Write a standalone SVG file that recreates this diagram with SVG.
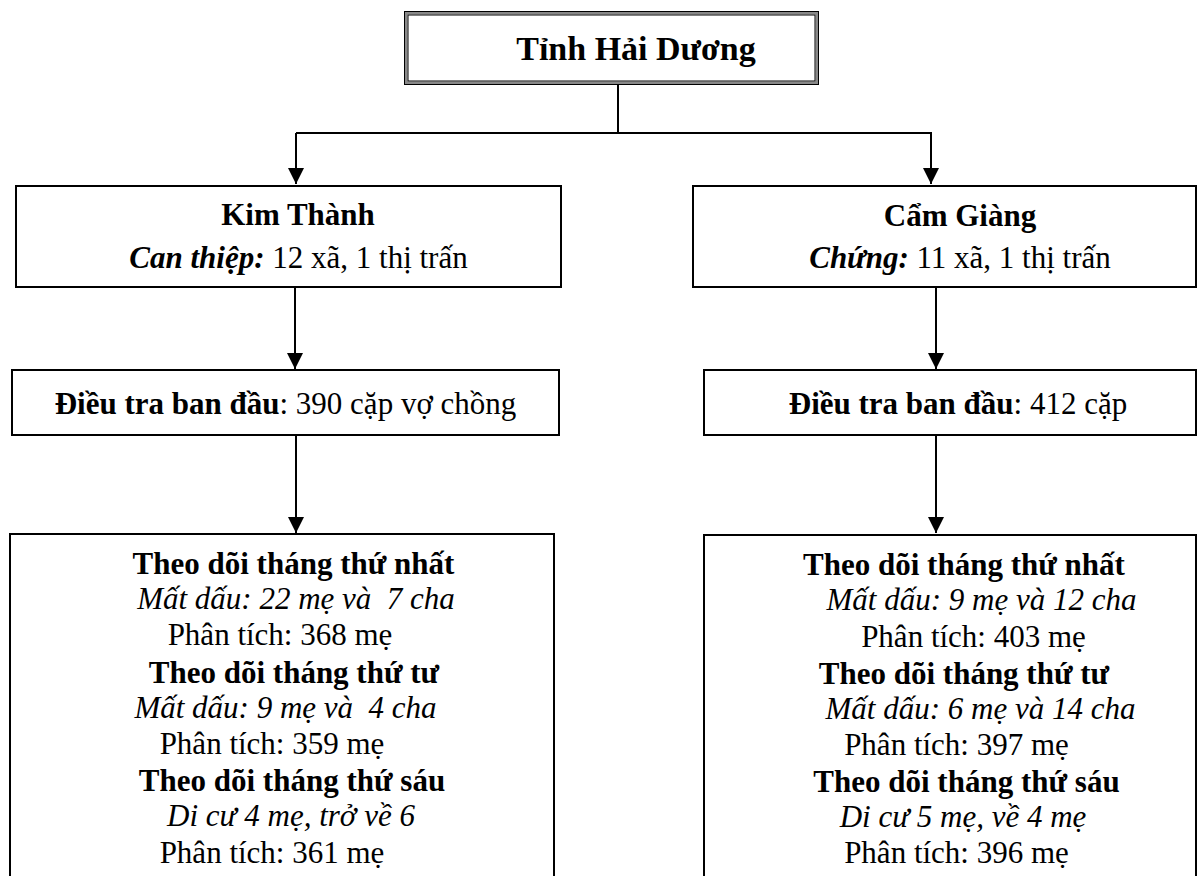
<svg xmlns="http://www.w3.org/2000/svg" width="1198" height="876" viewBox="0 0 1198 876">
<style>
text{font-family:"Liberation Serif","Times New Roman",serif;fill:#000;text-anchor:middle;font-size:31px}
.b{font-weight:bold}
.i{font-style:italic}
.title{font-size:34px}
.box{fill:#fff;stroke:#000;stroke-width:2}
.conn{fill:none;stroke:#000;stroke-width:2}
</style>
<defs>
<marker id="ah" markerUnits="userSpaceOnUse" markerWidth="16" markerHeight="16" refX="16" refY="8" orient="auto">
<path d="M0,0 L16,8 L0,16 z" fill="#000"/>
</marker>
</defs>
<rect width="1198" height="876" fill="#fff"/>
<g id="connectors">
<path class="conn" d="M618,84 V133"/>
<path class="conn" d="M296,133 H932"/>
<path class="conn" d="M296,133 V184" marker-end="url(#ah)"/>
<path class="conn" d="M931,133 V184" marker-end="url(#ah)"/>
<path class="conn" d="M295,287 V369" marker-end="url(#ah)"/>
<path class="conn" d="M936,287 V369" marker-end="url(#ah)"/>
<path class="conn" d="M296,435 V533" marker-end="url(#ah)"/>
<path class="conn" d="M936,435 V533" marker-end="url(#ah)"/>
</g>
<g id="tinh">
<rect x="406" y="13" width="411" height="70" fill="#fff" stroke="#888" stroke-width="3"/>
<rect x="404.5" y="11.5" width="414" height="73" fill="none" stroke="#000" stroke-width="1"/>
<rect x="408" y="15" width="407" height="66" fill="none" stroke="#000" stroke-width="1"/>
<text class="b title" x="636" y="60">Tỉnh Hải Dương</text>
</g>
<g id="kimthanh">
<rect class="box" x="16" y="186" width="545" height="101"/>
<text class="b" x="298" y="225">Kim Thành</text>
<text x="298.5" y="268"><tspan class="b i">Can thiệp:</tspan> 12 xã, 1 thị trấn</text>
</g>
<g id="camgiang">
<rect class="box" x="693" y="186" width="503" height="101"/>
<text class="b" x="960" y="226">Cẩm Giàng</text>
<text x="960" y="268"><tspan class="b i">Chứng:</tspan> 11 xã, 1 thị trấn</text>
</g>
<g id="dieutra-left">
<rect class="box" x="12" y="370" width="547" height="65"/>
<text x="285.5" y="414"><tspan class="b">Điều tra ban đầu</tspan>: 390 cặp vợ chồng</text>
</g>
<g id="dieutra-right">
<rect class="box" x="704" y="370" width="492" height="65"/>
<text x="958" y="414"><tspan class="b">Điều tra ban đầu</tspan>: 412 cặp</text>
</g>
<g id="theodoi-left">
<rect class="box" x="10" y="534" width="544" height="360"/>
<text class="b" x="293.5" y="574">Theo dõi tháng thứ nhất</text>
<text class="i" x="296" y="609" xml:space="preserve">Mất dấu: 22 mẹ và  7 cha</text>
<text x="280" y="645">Phân tích: 368 mẹ</text>
<text class="b" x="294" y="683">Theo dõi tháng thứ tư</text>
<text class="i" x="285.5" y="718" xml:space="preserve">Mất dấu: 9 mẹ và  4 cha</text>
<text x="272" y="754">Phân tích: 359 mẹ</text>
<text class="b" x="292" y="791">Theo dõi tháng thứ sáu</text>
<text class="i" x="291" y="826">Di cư 4 mẹ, trở về 6</text>
<text x="272" y="863">Phân tích: 361 mẹ</text>
</g>
<g id="theodoi-right">
<rect class="box" x="704" y="535" width="492" height="360"/>
<text class="b" x="964" y="575">Theo dõi tháng thứ nhất</text>
<text class="i" x="981.5" y="610">Mất dấu: 9 mẹ và 12 cha</text>
<text x="973.5" y="647">Phân tích: 403 mẹ</text>
<text class="b" x="964" y="684">Theo dõi tháng thứ tư</text>
<text class="i" x="980.5" y="719">Mất dấu: 6 mẹ và 14 cha</text>
<text x="956.5" y="755">Phân tích: 397 mẹ</text>
<text class="b" x="966.5" y="792">Theo dõi tháng thứ sáu</text>
<text class="i" x="963" y="827">Di cư 5 mẹ, về 4 mẹ</text>
<text x="956.5" y="863">Phân tích: 396 mẹ</text>
</g>
</svg>
